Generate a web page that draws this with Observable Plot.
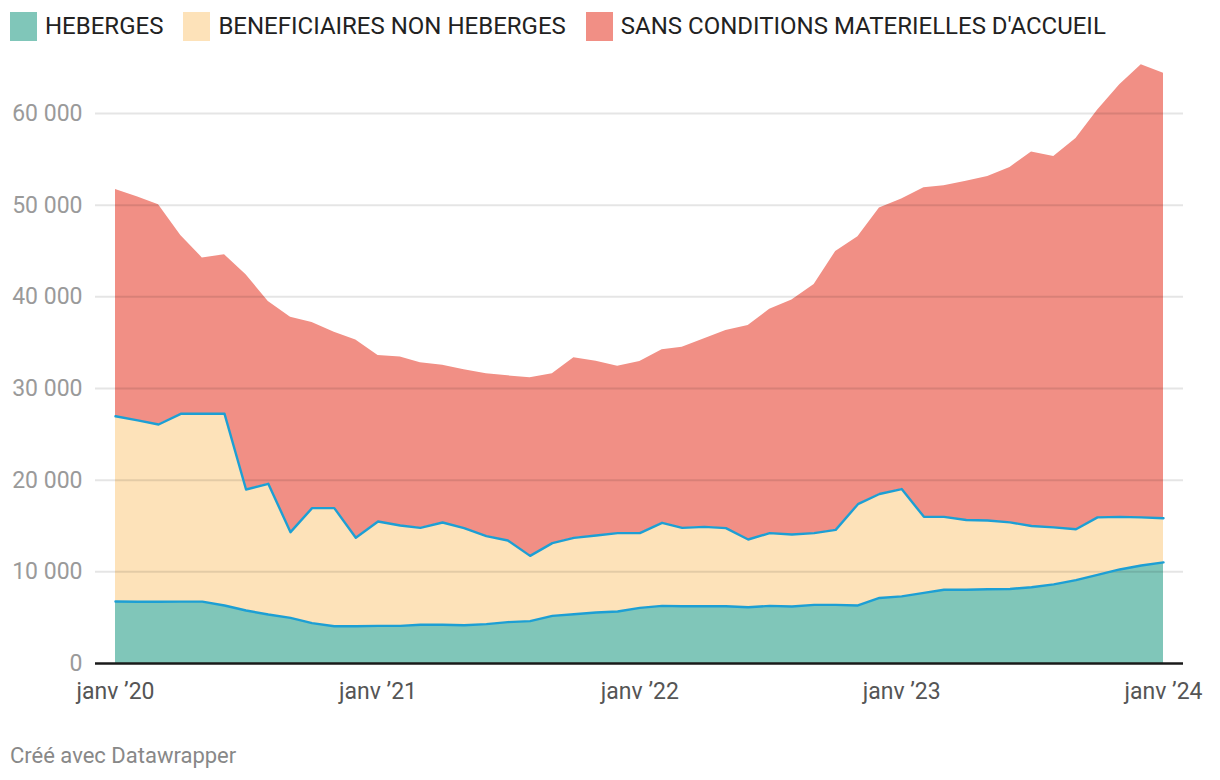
<!DOCTYPE html>
<html><head><meta charset="utf-8">
<script src="https://cdn.jsdelivr.net/npm/d3@7"></script>
<script src="https://cdn.jsdelivr.net/npm/@observablehq/plot@0.6"></script>
<style>
body{margin:0;background:#fff;font-family:Roboto,sans-serif;}
#wrap{position:relative;width:1220px;height:780px;overflow:hidden;}
#legend{position:absolute;left:10px;top:12px;display:flex;align-items:center;font-size:24px;color:#222;line-height:29px;}
.item{display:flex;align-items:center;margin-right:20px;}
.sw{width:27px;height:29px;margin-right:8px;}
#chart{position:absolute;left:0;top:50px;}
#credit{position:absolute;left:10px;top:743px;font-size:22px;color:#888;}
</style></head><body>
<div id="wrap"><div id="legend"></div><div id="chart"></div><div id="credit">Créé avec Datawrapper</div></div>
<script>
const months = ["2020-01","2020-02","2020-03","2020-04","2020-05","2020-06","2020-07","2020-08","2020-09","2020-10","2020-11","2020-12",
"2021-01","2021-02","2021-03","2021-04","2021-05","2021-06","2021-07","2021-08","2021-09","2021-10","2021-11","2021-12",
"2022-01","2022-02","2022-03","2022-04","2022-05","2022-06","2022-07","2022-08","2022-09","2022-10","2022-11","2022-12",
"2023-01","2023-02","2023-03","2023-04","2023-05","2023-06","2023-07","2023-08","2023-09","2023-10","2023-11","2023-12",
"2024-01"];
const heberges = [6760,6740,6730,6750,6750,6330,5780,5345,4980,4400,4070,4070,
4100,4100,4220,4220,4170,4300,4510,4620,5200,5380,5560,5670,
6070,6290,6250,6250,6250,6140,6290,6220,6400,6400,6330,7150,
7320,7700,8050,8050,8100,8130,8320,8630,9100,9660,10260,10690,
11030];
const nonHeberges = [20210,19780,19340,20490,20490,20910,13200,14255,9350,12550,12880,9640,
11390,10950,10580,11160,10600,9600,8910,7120,7930,8330,8400,8550,
8150,9060,8550,8660,8520,7390,7930,7850,7820,8180,11050,11340,
11710,8300,7950,7600,7500,7270,6680,6220,5550,6280,5730,5250,
4820];
const sansCMA = [24730,24380,23980,19460,17010,17360,23420,19900,23450,20250,19200,21590,
18110,18400,18000,17170,17270,17700,17960,19430,18470,19640,19020,18210,
18730,18870,19710,20510,21560,23340,24430,25580,27130,30370,29170,31210,
31650,35900,36120,36950,37520,38710,40800,40470,42610,44420,47160,49390,
48550];
const seriesNames = ["HEBERGES","BENEFICIAIRES NON HEBERGES","SANS CONDITIONS MATERIELLES D'ACCUEIL"];
const seriesColors = ["#80c6b9","#fde2b9","#f18f85"];
const yTicks = [0,10000,20000,30000,40000,50000,60000];
const yTickLabels = ["0","10 000","20 000","30 000","40 000","50 000","60 000"];
const xTicks = ["2020-01","2021-01","2022-01","2023-01","2024-01"];
const xTickLabels = ["janv ’20","janv ’21","janv ’22","janv ’23","janv ’24"];

const toDate = m => new Date(m + "-01T00:00:00Z");
const series = [heberges, nonHeberges, sansCMA];
const rows = [];
months.forEach((m, i) => {
  series.forEach((s, k) => rows.push({date: toDate(m), series: seriesNames[k], value: s[i]}));
});
const line1 = months.map((m, i) => ({date: toDate(m), v: heberges[i]}));
const line2 = months.map((m, i) => ({date: toDate(m), v: heberges[i] + nonHeberges[i]}));
const yLab = new Map(yTicks.map((t, i) => [t, yTickLabels[i]]));
const xDates = xTicks.map(toDate);
const xLab = new Map(xDates.map((d, i) => [+d, xTickLabels[i]]));

const legend = document.getElementById("legend");
seriesNames.forEach((n, k) => {
  const it = document.createElement("div"); it.className = "item";
  const sw = document.createElement("div"); sw.className = "sw"; sw.style.background = seriesColors[k];
  const tx = document.createElement("span"); tx.textContent = n;
  it.appendChild(sw); it.appendChild(tx); legend.appendChild(it);
});

const chart = Plot.plot({
  width: 1220, height: 673,
  marginLeft: 95, marginRight: 37, marginTop: 63, marginBottom: 60,
  style: {fontFamily: "Roboto, sans-serif", fontSize: "23px", background: "transparent"},
  x: {type: "utc", domain: [toDate(months[0]), toDate(months[months.length - 1])], range: [115, 1163], label: null},
  y: {domain: [0, 60000], range: [613, 63], label: null},
  color: {domain: seriesNames, range: seriesColors},
  marks: [
    Plot.areaY(rows, {x: "date", y: "value", z: "series", fill: "series"}),
    Plot.gridY(yTicks.slice(1), {stroke: "#000", strokeOpacity: 0.1, strokeWidth: 2}),
    Plot.lineY(line1, {x: "date", y: "v", stroke: "#1d9fd4", strokeWidth: 2.4}),
    Plot.lineY(line2, {x: "date", y: "v", stroke: "#1d9fd4", strokeWidth: 2.4}),
    Plot.ruleY([0], {stroke: "#1a1a1a", strokeWidth: 2.5}),
    Plot.axisY(yTicks, {tickSize: 0, tickPadding: 13, tickFormat: d => yLab.get(d), fill: "#9a9a9a", fontSize: 23}),
    Plot.axisX(xDates, {tickSize: 0, tickPadding: 19, tickFormat: d => xLab.get(+d), fill: "#555", fontSize: 23})
  ]
});
document.getElementById("chart").appendChild(chart);
</script>
</body></html>
